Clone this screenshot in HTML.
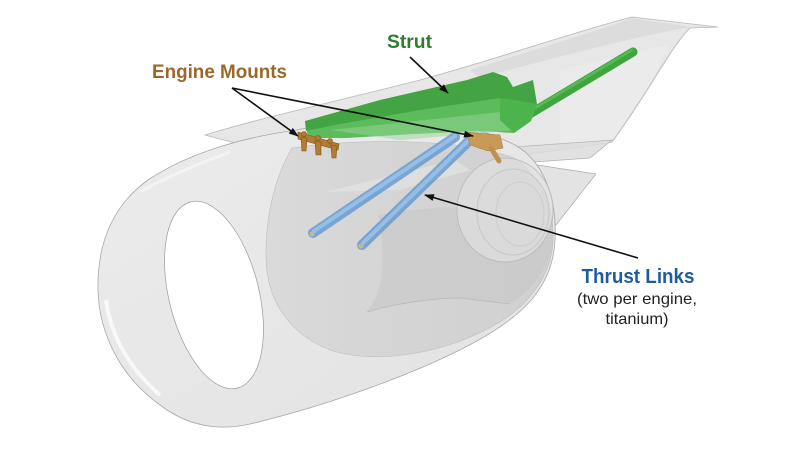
<!DOCTYPE html>
<html>
<head>
<meta charset="utf-8">
<style>
  html,body{margin:0;padding:0;background:#ffffff;}
  body{width:800px;height:450px;overflow:hidden;}
  svg{display:block;}
  text{font-family:"Liberation Sans", Arial, sans-serif;}
</style>
</head>
<body>
<svg width="800" height="450" viewBox="0 0 800 450" xmlns="http://www.w3.org/2000/svg">
  <defs>
    <marker id="ah" markerWidth="10" markerHeight="8" refX="9" refY="4" orient="auto" markerUnits="userSpaceOnUse">
      <path d="M0,0.5 L10,4 L0,7.5 Z" fill="#111"/>
    </marker>
    <linearGradient id="cowl" x1="0" y1="0" x2="1" y2="0">
      <stop offset="0" stop-color="#dadada"/>
      <stop offset="0.5" stop-color="#d4d4d4"/>
      <stop offset="1" stop-color="#d0d0d0"/>
    </linearGradient>
    <linearGradient id="lip" x1="0" y1="0" x2="1" y2="1">
      <stop offset="0" stop-color="#ececec"/>
      <stop offset="1" stop-color="#e2e2e2"/>
    </linearGradient>
  </defs>

  <rect width="800" height="450" fill="#ffffff"/>

  <!-- Wing (behind) -->
  <path d="M205,135 C260,118 350,98 420,80 C500,58 580,30 632,17 L718,27 L690,28 C672,45 650,90 612,142 C580,148 540,152 500,158 L420,165 L300,160 Z"
        fill="#e7e7e7" stroke="#b8b8b8" stroke-width="0.8"/>
  <path d="M470,70 C540,48 600,30 632,18 L690,27 C630,38 560,56 480,78 Z" fill="#d9d9d9" opacity="0.8"/>
  <path d="M560,70 C600,60 640,50 668,45 C655,80 635,115 612,140 L560,145 Z" fill="#eeeeee" opacity="0.6"/>
  <path d="M690,28 C672,45 650,90 612,142" fill="none" stroke="#c4c4c4" stroke-width="1.2"/>

  <!-- lower wing sheet / fairings -->
  <path d="M500,148 L612,140 L590,158 L520,163 Z" fill="#dcdcdc" fill-opacity="0.85" stroke="#b0b0b0" stroke-width="0.7"/>
  <path d="M518,162 L596,174 L556,225 L538,200 Z" fill="#d9d9d9" fill-opacity="0.75" stroke="#ababab" stroke-width="0.7"/>

  <!-- Nacelle silhouette -->
  <path d="M297,130 C370,114 450,112 515,145 C545,162 557,200 555,240 C553,285 525,315 475,342 C420,372 330,405 250,424 C215,432 185,424 160,405 C122,378 99,335 98,290 C97,243 113,205 148,180 C190,152 245,137 297,130 Z"
        fill="url(#lip)" stroke="#a8a8a8" stroke-width="0.8"/>

  <!-- cowl darker region -->
  <path d="M292,148 C276,175 265,215 266,258 C267,300 288,333 330,350 C380,366 450,352 500,322 C535,300 552,270 553,240 C554,205 540,178 518,160 C470,138 360,138 292,148 Z"
        fill="url(#cowl)" stroke="#bdbdbd" stroke-width="0.6"/>

  <!-- lighter translucent sheet inside cowl -->
  <path d="M325,192 L455,160 L470,170 L400,190 Z" fill="#e2e2e2" opacity="0.7"/>

  <!-- thrust reverser band -->
  <path d="M378,215 C386,255 385,290 367,312 C400,302 440,298 460,298 L510,304 C535,288 550,265 553,240 L553,215 C500,205 430,205 378,215 Z"
        fill="#c6c6c6" opacity="0.55"/>
  <path d="M367,312 C400,302 440,298 460,298 L510,304" fill="none" stroke="#b8b8b8" stroke-width="0.7"/>

  <!-- exhaust -->
  <ellipse cx="505" cy="210" rx="48" ry="52" fill="#e0e0e0" fill-opacity="0.7" stroke="#b8b8b8" stroke-width="0.8"/>
  <ellipse cx="513" cy="212" rx="36" ry="43" fill="#d9d9d9" fill-opacity="0.5" stroke="#c2c2c2" stroke-width="0.8"/>
  <ellipse cx="520" cy="214" rx="24" ry="32" fill="none" stroke="#cacaca" stroke-width="0.8"/>

  <!-- lip highlight -->
  <path d="M106,300 C110,330 125,365 160,395" fill="none" stroke="#ffffff" stroke-width="4" opacity="0.7"/>
  <path d="M140,192 C165,178 195,165 230,152" fill="none" stroke="#f6f6f6" stroke-width="3" opacity="0.7"/>

  <!-- inlet hole -->
  <ellipse cx="214" cy="295" rx="45" ry="96" transform="rotate(-14 214 295)" fill="#ffffff" stroke="#9a9a9a" stroke-width="0.7"/>

  <!-- Strut (green) -->
  <line x1="528" y1="115" x2="633" y2="52" stroke="#3fa53f" stroke-width="9" stroke-linecap="round"/>
  <line x1="530" y1="111" x2="632" y2="50" stroke="#62c462" stroke-width="2.5" stroke-linecap="round" opacity="0.7"/>
  <path d="M306,124 L420,108 L500,96 L537,104 L531,121 L514,133 L480,131 L413,134 L347,138 L308,138 Z" fill="#5cbc5c"/>
  <path d="M330,130 L520,110 L518,130 L400,140 Z" fill="#98d498" opacity="0.5"/>
  <path d="M305,121 L380,100 L467,80 L493,72 L507,77 L513,87 L533,80 L537,104 L500,98 L420,110 L340,124 L306,131 Z" fill="#42a442"/>
  <path d="M500,98 L537,104 L531,121 L514,133 L500,120 Z" fill="#4db44d"/>

  <!-- Front engine mount -->
  <g fill="#b27d32" stroke="#7e5318" stroke-width="0.6">
    <path d="M298,132 L339,144 L338,150 L298,139 Z"/>
    <path d="M301,137 L307,138 L306,151 L302,151 Z"/>
    <path d="M315,141 L321,142 L321,155 L316,155 Z"/>
    <path d="M331,145 L337,146 L336,158 L332,158 Z"/>
    <circle cx="304" cy="134" r="2.5"/>
    <circle cx="318" cy="138" r="2.5"/>
    <circle cx="330" cy="141" r="2.5"/>
  </g>

  <!-- Thrust links (blue) -->
  <line x1="455" y1="137" x2="313" y2="233" stroke="#6a9cd0" stroke-width="10" stroke-linecap="round" opacity="0.85"/>
  <line x1="455" y1="136" x2="314" y2="231" stroke="#9cc6ee" stroke-width="4" stroke-linecap="round" opacity="0.8"/>
  <line x1="472" y1="138" x2="362" y2="245" stroke="#6a9cd0" stroke-width="10" stroke-linecap="round" opacity="0.85"/>
  <line x1="472" y1="137" x2="363" y2="243" stroke="#9cc6ee" stroke-width="4" stroke-linecap="round" opacity="0.8"/>
  <circle cx="312" cy="234" r="2.5" fill="#c8b690"/>
  <circle cx="361" cy="246" r="2.5" fill="#c8b690"/>

  <!-- Rear engine mount -->
  <g>
    <path d="M466,132 L500,135 L503,148 L488,151 L470,145 Z" fill="#c99a55" stroke="#9c7a40" stroke-width="0.5"/>
    <line x1="491" y1="148" x2="499" y2="161" stroke="#c09050" stroke-width="5" stroke-linecap="round"/>
  </g>

  <!-- Leader lines -->
  <g stroke="#111" stroke-width="1.6" fill="none">
    <line x1="232" y1="88" x2="298" y2="136" marker-end="url(#ah)"/>
    <line x1="232" y1="88" x2="473" y2="136" marker-end="url(#ah)"/>
    <line x1="410" y1="57" x2="448" y2="93" marker-end="url(#ah)"/>
    <line x1="638" y1="258" x2="425" y2="195" marker-end="url(#ah)"/>
  </g>

  <!-- Labels -->
  <text x="152" y="78" font-size="19.5" font-weight="bold" fill="#9a682c" textLength="135" lengthAdjust="spacingAndGlyphs">Engine Mounts</text>
  <text x="387" y="48" font-size="19" font-weight="bold" fill="#2f7d2f" textLength="45" lengthAdjust="spacingAndGlyphs">Strut</text>
  <text x="638" y="283" font-size="20" font-weight="bold" fill="#1f5c9e" text-anchor="middle" textLength="113" lengthAdjust="spacingAndGlyphs">Thrust Links</text>
  <text x="637" y="304" font-size="16" fill="#222" text-anchor="middle" textLength="120" lengthAdjust="spacingAndGlyphs">(two per engine,</text>
  <text x="637" y="324" font-size="16" fill="#222" text-anchor="middle" textLength="63" lengthAdjust="spacingAndGlyphs">titanium)</text>
</svg>
</body>
</html>
